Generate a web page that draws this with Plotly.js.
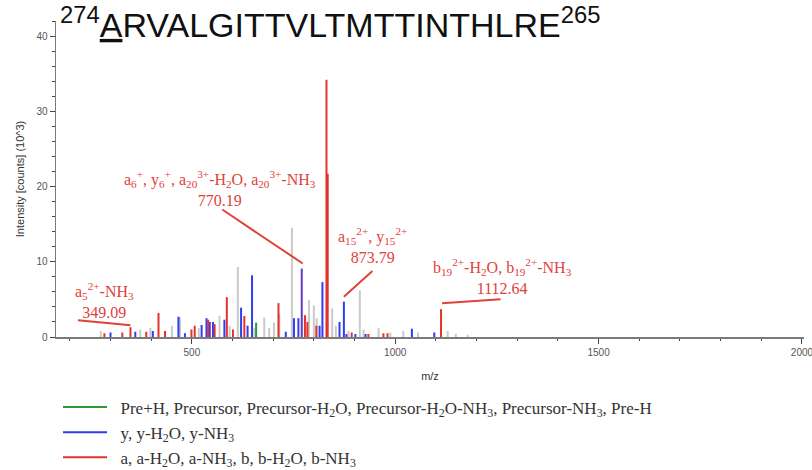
<!DOCTYPE html>
<html>
<head>
<meta charset="utf-8">
<script src="https://cdn.plot.ly/plotly-3.0.1.min.js"></script>
<style>html,body{margin:0;padding:0;background:#fff;}#chart{width:812px;height:470px;}</style>
</head>
<body>
<div id="chart"></div>
<script>
// ---- Data (m/z, intensity in 10^3 counts) ----
const grayMz  = [276, 373, 398, 451, 471, 517, 568, 593, 613, 654, 678, 690, 702, 715, 746, 788, 800, 807, 845, 854, 885, 913, 922, 959, 988, 1020, 1056, 1129, 1149, 1178];
const grayInt = [0.8, 1.0, 1.2, 1.5, 2.6, 1.2, 2.8, 1.5, 9.3, 1.2, 2.6, 1.2, 1.9, 3.1, 14.5, 4.9, 4.2, 2.5, 3.8, 1.5, 0.8, 6.2, 1.0, 1.2, 0.6, 0.8, 0.6, 0.8, 0.4, 0.3];

const greenMz  = [658];
const greenInt = [1.9];

const blueMz  = [300, 361, 404, 467, 483, 524, 536, 544, 552, 580, 621, 637, 648, 731, 751, 762, 814, 821, 863, 873.79, 880, 902, 927, 1041, 1096];
const blueInt = [0.6, 0.7, 0.8, 2.7, 0.5, 1.6, 2.5, 2.0, 2.0, 2.3, 3.9, 1.5, 8.2, 0.7, 2.5, 2.5, 1.5, 7.3, 2.0, 4.7, 0.4, 0.4, 0.4, 1.1, 0.6];

const redMz  = [285, 329, 349.09, 388, 418, 434, 499, 507, 540, 556, 586, 601, 629, 713, 778, 784, 806, 831, 834, 893, 934, 971, 981, 1112.64];
const redInt = [0.5, 0.6, 1.3, 0.7, 3.2, 0.8, 1.0, 1.5, 2.3, 1.7, 5.3, 1.0, 2.8, 4.5, 2.9, 2.0, 1.5, 34.2, 21.7, 0.6, 0.4, 0.5, 0.5, 3.7];

const purpleMz  = [770.19];
const purpleInt = [9.1];

const legendNames = [
  'Pre+H, Precursor, Precursor-H<sub>2</sub>O, Precursor-H<sub>2</sub>O-NH<sub>3</sub>, Precursor-NH<sub>3</sub>, Pre-H',
  'y, y-H<sub>2</sub>O, y-NH<sub>3</sub>',
  'a, a-H<sub>2</sub>O, a-NH<sub>3</sub>, b, b-H<sub>2</sub>O, b-NH<sub>3</sub>'
];

const labelMz = [349.09, 770.19, 873.79, 1112.64];
const labelText = [
  'a<sub>5</sub><sup>2+</sup>-NH<sub>3</sub><br>349.09',
  'a<sub>6</sub><sup>+</sup>, y<sub>6</sub><sup>+</sup>, a<sub>20</sub><sup>3+</sup>-H<sub>2</sub>O, a<sub>20</sub><sup>3+</sup>-NH<sub>3</sub><br>770.19',
  'a<sub>15</sub><sup>2+</sup>, y<sub>15</sub><sup>2+</sup><br>873.79',
  'b<sub>19</sub><sup>2+</sup>-H<sub>2</sub>O, b<sub>19</sub><sup>2+</sup>-NH<sub>3</sub><br>1112.64'
];

const titleText = '<sup>274</sup><u>A</u>RVALGITTVLTMTTINTHLRE<sup>265</sup>';

// ---- Build stick traces ----
function sticks(mz, inten) {
  const x = [], y = [];
  for (let i = 0; i < mz.length; i++) { x.push(mz[i], mz[i], null); y.push(0, inten[i], null); }
  return {x, y};
}
function stickTrace(mz, inten, color, name, showlegend) {
  const s = sticks(mz, inten);
  return {type: 'scatter', mode: 'lines', x: s.x, y: s.y, name: name || '', showlegend: !!showlegend,
          line: {color: color, width: 2}, hoverinfo: 'skip'};
}
const RED = '#e5312b', BLUE = '#2f3df2', GREEN = '#2b9a35', GRAY = '#cacaca', PURPLE = '#6238c9';
const PAD = '\u00a0\u00a0';

const traces = [
  stickTrace(grayMz, grayInt, GRAY, '', false),
  stickTrace(greenMz, greenInt, GREEN, PAD + legendNames[0], true),
  stickTrace(blueMz, blueInt, BLUE, PAD + legendNames[1], true),
  stickTrace(redMz, redInt, RED, PAD + legendNames[2], true),
  stickTrace(purpleMz, purpleInt, PURPLE, '', false)
];

// ---- Peak heights for annotations ----
const allMz = redMz.concat(blueMz, purpleMz), allInt = redInt.concat(blueInt, purpleInt);
function heightOf(mz) { const i = allMz.indexOf(mz); return i >= 0 ? allInt[i] : 0; }

// label text offsets (px) from the peak top
const textShift = [[-26, 27], [-82, 80], [29, 56], [61, 33]];
// connector: head shift from peak top, and tail offset from head (px)
const headShift = [[0, 2], [1, 5], [0, 5], [1, 6]];
const tailOff   = [[-54, -5], [-82, -55], [30, -27], [60, -4]];

const annotations = [];
const TXT = '#e0413b';
for (let k = 0; k < labelMz.length; k++) {
  const h = heightOf(labelMz[k]);
  annotations.push({x: labelMz[k], y: h, xref: 'x', yref: 'y', text: labelText[k], showarrow: false,
    xshift: textShift[k][0], yshift: textShift[k][1], align: 'center',
    font: {family: 'Liberation Serif, serif', size: 16, color: TXT}});
  annotations.push({x: labelMz[k], y: h, xref: 'x', yref: 'y', text: '', showarrow: true,
    xshift: headShift[k][0], yshift: headShift[k][1],
    arrowhead: 0, arrowwidth: 2, arrowcolor: TXT, standoff: 0, ax: tailOff[k][0], ay: tailOff[k][1]});
}

const AXC = '#7a7a7a';
const SANS = 'Liberation Sans, Arial, sans-serif';
const layout = {
  width: 812, height: 470,
  paper_bgcolor: '#fff', plot_bgcolor: '#fff',
  margin: {l: 56, r: 8, t: 21, b: 133, autoexpand: false},
  showlegend: true,
  title: {text: titleText, x: 60/812, xanchor: 'left', xref: 'container', y: 1 - 25/470, yanchor: 'middle', yref: 'container',
          font: {family: SANS, size: 34, color: '#111'}},
  xaxis: {range: [166, 2005], showgrid: false, zeroline: false, showline: true, linecolor: AXC, linewidth: 1.5,
          tickmode: 'array', tickvals: [500, 1000, 1500, 2000], ticks: 'outside', ticklen: 5, tickcolor: '#444', tickwidth: 1,
          ticklabeloverflow: 'allow',
          minor: {dtick: 100, tick0: 0, ticks: 'outside', ticklen: 2, tickcolor: '#444'},
          tickfont: {family: SANS, size: 10, color: '#555'},
          title: {text: 'm/z', standoff: 16, font: {family: SANS, size: 11, color: '#333'}},
          automargin: false},
  yaxis: {range: [0, 42], showgrid: false, zeroline: false, showline: true, linecolor: AXC, linewidth: 1.5,
          tickmode: 'array', tickvals: [0, 10, 20, 30, 40], ticks: 'outside', ticklen: 5, tickcolor: '#444',
          minor: {dtick: 2, tick0: 0, ticks: 'outside', ticklen: 3, tickcolor: '#444'},
          tickfont: {family: SANS, size: 10, color: '#555'},
          title: {text: 'Intensity [counts] (10^3)', font: {family: SANS, size: 11, color: '#333'}},
          automargin: false},
  legend: {orientation: 'v', x: 2/748, xanchor: 'left', y: -(389.5 - 337)/316, yanchor: 'top',
           itemwidth: 44, font: {family: 'Liberation Serif, serif', size: 17, color: '#333'}, bgcolor: 'rgba(0,0,0,0)'},
  annotations: annotations
};

Plotly.newPlot('chart', traces, layout, {staticPlot: true, displayModeBar: false});
</script>
</body>
</html>
